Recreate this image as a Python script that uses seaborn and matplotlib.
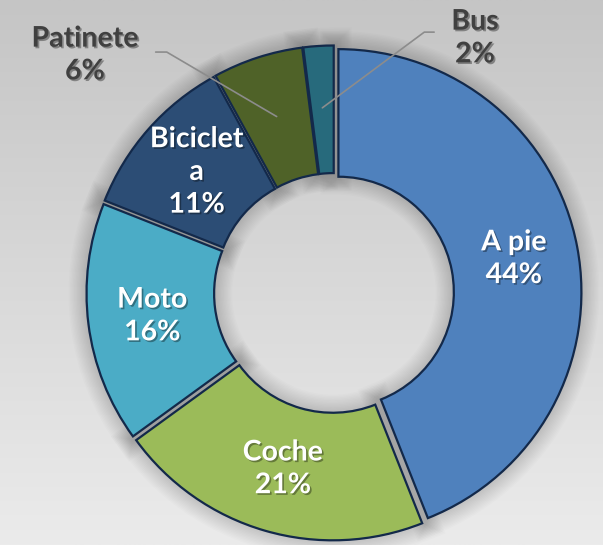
"""
Donut chart: medio de transporte al colegio (recreated with seaborn/matplotlib).
"""

import numpy as np
import matplotlib.pyplot as plt
import matplotlib.patheffects as pe
from matplotlib.colors import LinearSegmentedColormap
import seaborn as sns

# Data
categories = ['A pie', 'Coche', 'Moto', 'Bicicleta', 'Patinete', 'Bus']
shares = [44, 21, 16, 11, 6, 2]
# Excel wraps "Bicicleta" inside the slice
label_names = ['A pie', 'Coche', 'Moto', 'Biciclet\na', 'Patinete', 'Bus']
label_inside = [True, True, True, True, False, False]
slice_colors = ['#4f81bd', '#9bbb59', '#4bacc6', '#2c4d75', '#4f6228', '#276a7c']

sns.set_theme(style='white')
plt.rcParams['font.family'] = ['Lato', 'DejaVu Sans']

W, H = 603, 545
fig = plt.figure(figsize=(W / 100, H / 100), dpi=100)
ax = fig.add_axes([0, 0, 1, 1])

# gray gradient background
bg = LinearSegmentedColormap.from_list('bg', ['#c5c5c5', '#ebebeb'])
ax.imshow(np.linspace(0, 1, 256).reshape(-1, 1), cmap=bg, extent=[0, W, 0, H],
          aspect='auto', zorder=-10)

center = (334, 252)
radius = 243
ring = radius * 0.525
explode = [4.5] * len(shares)
palette = sns.color_palette(slice_colors)

# soft shadow under the ring
halo = [pe.Stroke(linewidth=w, foreground='black', alpha=0.012) for w in range(26, 0, -2)]
shadow, _ = ax.pie(shares, radius=radius, center=center, startangle=90,
                   counterclock=False, explode=explode,
                   wedgeprops=dict(width=ring, facecolor='none', edgecolor='black', linewidth=0))
for w in shadow:
    w.set_path_effects(halo)
    w.set_zorder(0)

pie_labels = [f'{n}\n{s}%' if ins else '' for n, s, ins in zip(label_names, shares, label_inside)]
wedges, texts = ax.pie(shares, radius=radius, center=center, startangle=90,
                       counterclock=False, explode=explode, colors=palette,
                       labels=pie_labels, labeldistance=0.735,
                       wedgeprops=dict(width=ring, edgecolor='#13294a', linewidth=1.6),
                       textprops=dict(ha='center', va='center', color='white',
                                      fontsize=20.5, fontweight='bold', linespacing=1.32))
for w in wedges:
    w.set_zorder(2)
txt_shadow = [pe.SimplePatchShadow(offset=(1.2, -1.2), shadow_rgbFace='black', alpha=0.35), pe.Normal()]
for t in texts:
    t.set_path_effects(txt_shadow)
    t.set_zorder(3)

# outside labels with leader lines
outside_pos = {'Patinete': (85, 490), 'Bus': (475, 507)}
outside_angle = {'Patinete': 149.6, 'Bus': 36.6}
outside_rel = {'Patinete': (1.0, 0.55), 'Bus': (0.0, 0.6)}
for i, name in enumerate(categories):
    if label_inside[i]:
        continue
    w = wedges[i]
    mid = np.deg2rad((w.theta1 + w.theta2) / 2)
    cx, cy = w.center
    r = w.r * 0.745
    ax.annotate(f'{label_names[i]}\n{shares[i]}%', xy=(cx + r * np.cos(mid), cy + r * np.sin(mid)),
                xytext=outside_pos[name], ha='center', va='center', color='#404040',
                fontsize=20.5, fontweight='bold', linespacing=1.32, zorder=4,
                path_effects=txt_shadow,
                arrowprops=dict(arrowstyle='-', color='#8c8c8c', lw=1.2, shrinkA=10, shrinkB=0,
                                relpos=outside_rel[name],
                                connectionstyle=f'angle,angleA=0,angleB={outside_angle[name]},rad=0'))

ax.set_xlim(0, W)
ax.set_ylim(0, H)
ax.axis('off')

fig.savefig('out.png', dpi=100)
